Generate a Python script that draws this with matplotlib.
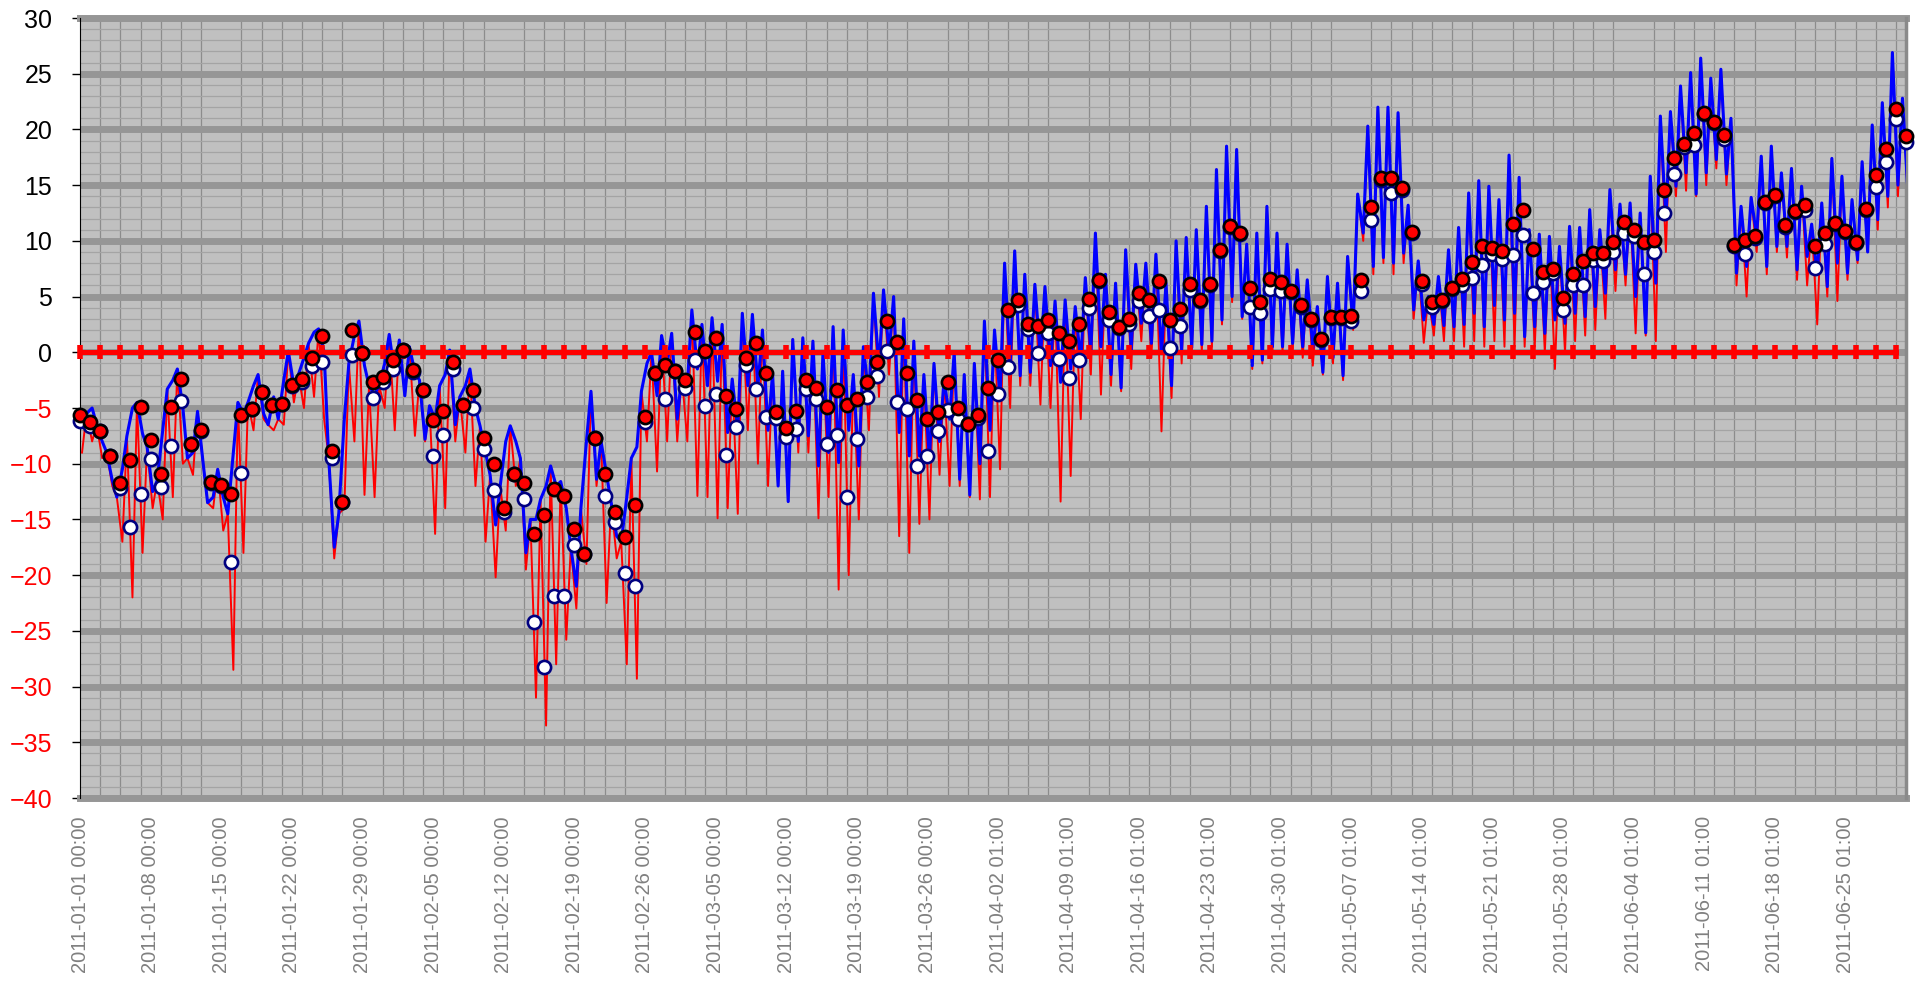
import numpy as np
import matplotlib
matplotlib.use("Agg")
import matplotlib.pyplot as plt
from matplotlib.ticker import MultipleLocator


plt.rcParams['font.family'] = ['Liberation Sans', 'DejaVu Sans']

# daily values, day 0 = 2011-01-01
red_dot = [-5.6, -6.3, -7.1, -9.3, -11.7, -9.7, -4.9, -7.9, -10.9, -4.9,
           -2.4, -8.2, -7.0, -11.6, -11.9, -12.7, -5.6, -5.1, -3.6, -4.7,
           -4.6, -2.9, -2.4, -0.55, 1.5, -8.9, -13.4, 2.0, -0.1, -2.7,
           -2.2, -0.7, 0.25, -1.6, -3.4, -6.1, -5.3, -0.9, -4.7, -3.4,
           -7.7, -10.0, -14.0, -10.9, -11.7, -16.3, -14.6, -12.3, -12.9, -15.9,
           -18.1, -7.7, -10.9, -14.3, -16.6, -13.7, -5.8, -1.9, -1.1, -1.7,
           -2.5, 1.8, 0.16, 1.3, -3.9, -5.1, -0.5, 0.8, -1.9, -5.4,
           -6.8, -5.3, -2.5, -3.2, -4.9, -3.4, -4.7, -4.2, -2.7, -0.9,
           2.8, 0.9, -1.9, -4.3, -6.0, -5.4, -2.7, -5.0, -6.4, -5.6,
           -3.2, -0.7, 3.8, 4.7, 2.55, 2.4, 2.9, 1.7, 1.0, 2.55,
           4.8, 6.5, 3.6, 2.3, 3.0, 5.3, 4.65, 6.4, 2.9, 3.9,
           6.1, 4.7, 6.1, 9.2, 11.3, 10.7, 5.8, 4.5, 6.6, 6.3,
           5.5, 4.2, 3.0, 1.2, 3.2, 3.2, 3.3, 6.5, 13.0, 15.65,
           15.6, 14.7, 10.8, 6.4, 4.5, 4.7, 5.8, 6.6, 8.1, 9.5,
           9.4, 9.1, 11.55, 12.75, 9.3, 7.2, 7.5, 4.9, 7.0, 8.2,
           8.9, 8.9, 9.9, 11.7, 11.0, 9.9, 10.1, 14.6, 17.4, 18.7,
           19.7, 21.5, 20.7, 19.5, 9.6, 10.1, 10.4, 13.5, 14.1, 11.4,
           12.7, 13.2, 9.5, 10.7, 11.6, 10.9, 9.9, 12.9, 15.9, 18.2,
           21.8, 19.4]

white_dot = [-6.2, -6.6, -7.1, -9.3, -12.2, -15.7, -12.7, -9.6, -12.1, -8.4,
             -4.4, -8.2, -7.1, -11.7, -12.0, -18.8, -10.8, -5.1, -3.6, -4.7,
             -4.6, -3.0, -2.7, -1.2, -0.9, -9.5, -13.4, -0.25, -0.1, -4.1,
             -2.7, -1.5, 0.2, -1.8, -3.4, -9.3, -7.4, -1.5, -4.7, -5.0,
             -8.7, -12.4, -14.3, -10.9, -13.2, -24.2, -28.2, -21.9, -21.9, -17.3,
             -18.1, -7.7, -12.9, -15.2, -19.8, -21.0, -6.3, -1.9, -4.2, -1.7,
             -3.2, -0.65, -4.8, -3.7, -9.2, -6.7, -1.1, -3.3, -5.8, -5.9,
             -7.6, -6.9, -3.3, -4.2, -8.2, -7.4, -13.0, -7.8, -4.0, -2.1,
             0.16, -4.5, -5.1, -10.2, -9.3, -7.1, -5.2, -6.0, -6.4, -5.9,
             -8.9, -3.7, -1.3, 4.2, 2.1, -0.1, 1.75, -0.6, -2.3, -0.7,
             4.0, 6.4, 2.9, 2.2, 2.5, 4.6, 3.3, 3.8, 0.4, 2.4,
             5.6, 4.6, 6.0, 9.1, 11.2, 10.6, 4.1, 3.5, 5.7, 5.5,
             5.4, 4.1, 2.9, 1.1, 3.1, 3.1, 2.85, 5.5, 11.9, 15.5,
             14.3, 14.6, 10.7, 6.1, 4.1, 4.6, 5.7, 6.0, 6.7, 7.8,
             8.8, 8.4, 8.7, 10.5, 5.3, 6.3, 7.1, 3.8, 6.0, 6.0,
             8.3, 8.2, 9.0, 10.7, 10.4, 7.0, 9.0, 12.5, 16.0, 18.4,
             18.6, 21.4, 20.6, 19.1, 9.5, 8.8, 10.3, 13.4, 14.0, 11.2,
             12.6, 12.8, 7.6, 9.7, 11.5, 10.8, 9.8, 12.8, 14.8, 17.1,
             20.9, 18.9]

# blue trace: early-morning value and afternoon value of each day
blue_am = [-6, -5, -8, -11.5, -10.5, -5, -7.3, -12.5, -7, -2.5,
           -5, -9, -9.9, -13, -13, -9, -5.5, -3, -5.5, -4,
           -2.5, -3, -0.5, 1.8, 0, -17.5, -6, 1.5, -1.2, -3.8,
           -1, -2, -3.9, -1.8, -7.8, -6, -2, -6.5, -3, -5,
           -9, -15.5, -8, -8, -18, -15, -12, -12, -14, -21,
           -8, -11.4, -11, -16.5, -13, -8.5, -1, -3.9, -1, -6,
           -3, -1.5, -3, -2.6, -7.2, -7, -3, -3, -7, -12,
           -13.4, -8, -7.5, -10.2, -9, -9.9, -7, -10.2, -4, -1.3,
           0, -7.2, -9.3, -9.3, -9.6, -8, -6, -11.4, -12.8, -10,
           -7, -4, -1.3, -2.1, -1.8, -0.5, -1.2, -2.7, -1.5, -0.8,
           0, 0.5, -2, -3.2, 0.2, 2.6, 0.8, -0.1, -3.0, 0.2,
           0.4, 0.7, 1, 2.9, 5, 3.2, -1.2, -0.7, 0.5, 0.5,
           0.8, 0.5, 0.4, -1.8, -0.5, -2.1, 2.3, 10.7, 7.7, 8.5,
           8.0, 8.9, 3.8, 2.9, 2.5, 2.4, 2.3, 2.5, 3.5, 2.3,
           4.2, 2.9, 3.5, 1.4, 2.3, 1.7, 2.9, 2.6, 3.5, 3.2,
           4.1, 5.3, 7.4, 7, 5, 1.75, 6.2, 11.9, 14.9, 16.1,
           14.2, 16.1, 17.3, 16, 7.1, 7.7, 10.4, 7.7, 9.5, 9.5,
           7.4, 8.6, 7, 5.9, 8, 7.1, 8.3, 9, 11.9, 14,
           15, 14.3]

blue_pm = [-5.5, -6.5, -9, -13, -7.5, -4.5, -8.5, -11.5, -3.3, -1.5,
           -9.5, -5.3, -13.5, -10.5, -14.5, -4.5, -4.5, -2, -6.5, -6,
           0.1, -2, 0.8, 2.1, -9.5, -14.5, -1, 2.8, -3, -3,
           1.6, 1.1, 0.5, -2.5, -4.8, -3, 0.2, -4, -1.5, -6.6,
           -11, -12, -6.6, -9.5, -15, -13.2, -10.2, -11.6, -17.5, -14,
           -3.5, -8, -13.5, -17, -9.5, -3.5, 0, 1.5, 1.7, -2,
           3.8, 2.5, 3.1, 2.5, -2.4, 3.5, 3.4, 2, -1.9, -1.7,
           1.15, 1.3, 1.0, 0, 2.3, 2, -2, 0.5, 5.3, 5.6,
           5, 3, 1, -2, -1, -2.4, 0, -2, -1, 2.8,
           2, 8.0, 9.1, 7.0, 6.1, 5.9, 4.6, 4.7, 4.1, 6.7,
           10.7, 7.0, 6.2, 9.2, 7.9, 8.0, 8.8, 6.2, 10.0, 10.3,
           11.0, 13.1, 16.4, 18.5, 18.2, 9.7, 10.7, 13.1, 10.7, 9.7,
           7.4, 6.5, 4.1, 6.8, 6.2, 8.6, 14.2, 20.3, 22.0, 22.0,
           21.5, 13.2, 8.2, 5.0, 6.8, 9.2, 11.2, 14.3, 15.4, 14.9,
           13.7, 17.7, 15.7, 11.0, 10.6, 10.4, 9.5, 11.3, 11.2, 12.8,
           11.0, 14.6, 13.3, 13.4, 12.5, 15.8, 21.2, 21.6, 23.9, 25.1,
           26.4, 24.6, 25.4, 21, 13.1, 13.9, 17.6, 18.5, 16.1, 16.5,
           14.9, 11.5, 13.4, 17.4, 15.8, 13.7, 17.1, 20.4, 22.4, 26.9,
           22.8, 19]

# lowest dip of the red trace each day
red_low = [-9, -8, -9.5, -12, -17, -22, -18, -14, -15, -13,
           -10, -11, -10, -14, -16, -28.5, -18, -7, -6, -7,
           -6.5, -4.5, -5, -4, -6, -18.5, -14, -8, -12.8, -13,
           -5, -7, -3, -7.5, -8, -16.3, -14, -8, -9, -12,
           -17, -20.2, -16, -12, -19.5, -31, -33.5, -28, -25.8, -23,
           -19, -12, -22.5, -18.5, -28, -29.3, -8, -10.7, -8, -8,
           -8, -12.9, -13, -14.9, -14, -14.5, -7, -10, -12, -12,
           -13.4, -9, -9, -14.9, -13, -21.3, -20, -15, -7, -4,
           -2, -16.5, -18, -15.4, -15, -11, -12, -12, -13, -13.2,
           -13, -10.5, -5, -3, -3, -4.7, -5, -13.4, -11.1, -6,
           -2, -3.8, -3, -3.5, -1.5, 1, -0.5, -7.1, -4.1, -1,
           0, 0, 0.5, 2.5, 4.5, 3, -1.5, -1, 0, 0,
           0.3, -0.5, -1.2, -2, -1, -2.5, 2, 10, 7, 8,
           7, 8, 3, 0.85, 1.5, 1, 1, 0.5, 1, 0.5,
           1, 0.5, 0.5, 0.5, 0.5, 0, -1.5, 0, 1, 1.5,
           2, 3, 5.5, 6, 1.7, 1.5, 1.0, 9, 14, 14.5,
           14, 15, 16.5, 15, 6, 5, 9, 7, 9, 8.5,
           6.5, 6, 2.5, 5, 4.6, 6.5, 8, 9, 11, 13,
           14, 14]

tick_labels = ["2011-01-01 00:00", "2011-01-08 00:00", "2011-01-15 00:00", "2011-01-22 00:00",
               "2011-01-29 00:00", "2011-02-05 00:00", "2011-02-12 00:00", "2011-02-19 00:00",
               "2011-02-26 00:00", "2011-03-05 00:00", "2011-03-12 00:00", "2011-03-19 00:00",
               "2011-03-26 00:00", "2011-04-02 01:00", "2011-04-09 01:00", "2011-04-16 01:00",
               "2011-04-23 01:00", "2011-04-30 01:00", "2011-05-07 01:00", "2011-05-14 01:00",
               "2011-05-21 01:00", "2011-05-28 01:00", "2011-06-04 01:00", "2011-06-11 01:00",
               "2011-06-18 01:00", "2011-06-25 01:00"]

days = np.arange(len(red_dot))
n_days = 181

# build the traces: two points per day
t_line = np.column_stack([days + 0.2, days + 0.65]).ravel()
blue_line = np.column_stack([blue_am, blue_pm]).ravel()
red_line = np.column_stack([np.minimum(red_low, blue_am), blue_pm]).ravel()

zero_days = np.arange(0, n_days + 1, 2)

fig = plt.figure(figsize=(19.17, 9.84), dpi=100)
ax = fig.add_axes([80 / 1917, 1 - 798 / 984, 1826 / 1917, 780 / 984])
ax.set_facecolor('#c0c0c0')

ax.plot(t_line, red_line, color='#ff0000', lw=1.4, zorder=3)
ax.plot(t_line, blue_line, color='#0000ff', lw=2.2, zorder=4)
ax.plot(zero_days, np.zeros(len(zero_days)), color='#ff0000', lw=3.6,
        marker='|', ms=10, mew=4, zorder=5, clip_on=False)
ax.plot(days, white_dot, 'o', ms=9.5, mfc='white', mec='#000080', mew=1.9,
        zorder=6, clip_on=False)
ax.plot(days, red_dot, 'o', ms=9.5, mfc='#ff0000', mec='black', mew=1.9,
        zorder=7, clip_on=False)

ax.set_xlim(0, n_days)
ax.set_ylim(-40, 30)

ax.yaxis.set_major_locator(MultipleLocator(5))
ax.yaxis.set_minor_locator(MultipleLocator(1))
ax.xaxis.set_minor_locator(MultipleLocator(2))
ax.set_xticks(np.arange(0, len(tick_labels) * 7, 7))
ax.set_xticklabels(tick_labels, rotation=90, color='#808080', fontsize=14.5)

ax.grid(axis='y', which='major', color='#969696', lw=5, zorder=0)
ax.grid(axis='y', which='minor', color='#a4a4a4', lw=0.9, zorder=0)
ax.grid(axis='x', which='minor', color='#8c8c8c', lw=0.9, zorder=0)
ax.set_axisbelow(True)
for yb in (30, -40):
    ax.axhline(yb, color='#969696', lw=5, zorder=1, clip_on=False)

ax.tick_params(axis='x', which='both', length=0, pad=13)
ax.tick_params(axis='y', which='major', length=6, width=1, color='black',
               labelsize=18, pad=14)
ax.tick_params(axis='y', which='minor', length=0)
for lab, val in zip(ax.get_yticklabels(), ax.get_yticks()):
    lab.set_color('red' if val < 0 else 'black')

ax.spines['top'].set_visible(False)
ax.spines['bottom'].set_visible(False)
ax.spines['left'].set_color('black')
ax.spines['right'].set_color('#8a8a8a')
ax.spines['right'].set_linewidth(2.5)

fig.savefig('out.png', dpi=100)
